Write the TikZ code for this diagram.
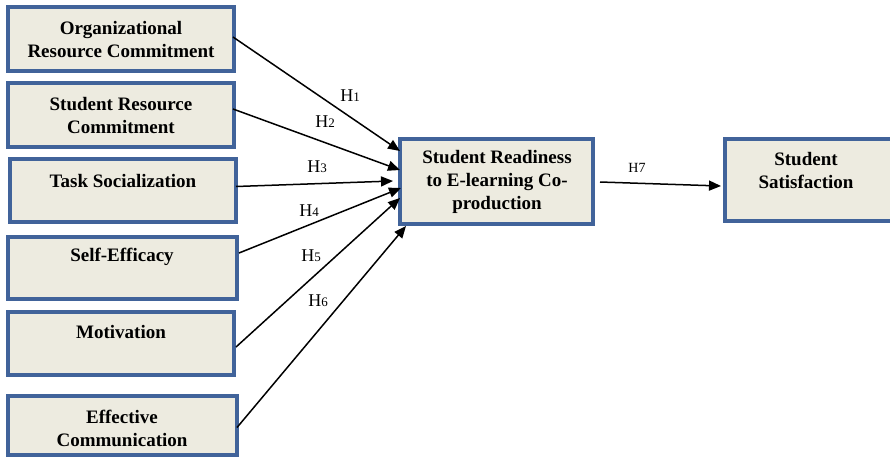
\documentclass[tikz,border=0pt]{standalone}
\usepackage{fontspec}
\setmainfont{Liberation Serif}
\usetikzlibrary{arrows.meta,calc}
\definecolor{bordblue}{HTML}{41639A}
\definecolor{boxfill}{HTML}{EDEBE0}
\tikzset{
  cbox/.style={draw=bordblue, line width=4pt, fill=boxfill, inner sep=0pt},
  btxt/.style={font=\fontsize{19}{23}\selectfont\bfseries, align=center, inner sep=0pt},
  hlab/.style={font=\fontsize{18}{18}\selectfont, inner sep=0pt},
  conn/.style={line width=1.5pt, -{Triangle[length=12pt,width=10pt]}}
}
\newcommand{\hyp}[1]{H{\fontsize{13}{13}\selectfont #1}}
\begin{document}
\begin{tikzpicture}[x=1pt,y=-1pt]
\useasboundingbox (0,0) rectangle (890,458);
% boxes
\node[cbox, minimum width=226pt, minimum height=64pt] (b1) at (121,39) {};
\node[cbox, minimum width=226pt, minimum height=64pt] (b2) at (121,115) {};
\node[cbox, minimum width=226pt, minimum height=63pt] (b3) at (123,190.5) {};
\node[cbox, minimum width=229pt, minimum height=62pt] (b4) at (122.5,268) {};
\node[cbox, minimum width=226pt, minimum height=63pt] (b5) at (121,343.5) {};
\node[cbox, minimum width=229pt, minimum height=59pt] (b6) at (122.5,425.5) {};
\node[cbox, minimum width=193pt, minimum height=85pt] (c) at (496.5,181.5) {};
\node[cbox, minimum width=168pt, minimum height=82pt] (r) at (809,180) {};
% texts
\node[btxt] (t1) at (121,40) {Organizational\\Resource Commitment};
\node[btxt] (t2) at (121,115) {Student Resource\\Commitment};
\node[btxt] (t3) at (123,181) {Task Socialization};
\node[btxt] (t4) at (122,257) {Self-Efficacy};
\node[btxt] (t5) at (121,332) {Motivation};
\node[btxt] (t6) at (122,428) {Effective\\Communication};
\node[btxt] (tc) at (497,182) {Student Readiness\\to E-learning Co-\\production};
\node[btxt] (tr) at (806,170.5) {Student\\Satisfaction};
% arrow end points
\coordinate (e1) at ($(c.north west)+(2,14)$);
\coordinate (e2) at ($(c.north west)+(2,33)$);
\coordinate (e3) at ($(c.north west)+(-5,44)$);
\coordinate (e4) at ($(c.north west)+(3,51)$);
\coordinate (e5) at ($(c.north west)+(2,61)$);
\coordinate (e6) at ($(c.south west)+(8,0)$);
% connectors
\draw[conn] ($(b1.east)+(-3,-2)$) -- (e1);
\draw[conn] ($(b2.east)+(-3,-6)$) -- (e2);
\draw[conn] ($(b3.east)+(-2,-4)$) -- (e3);
\draw[conn] ($(b4.east)+(0,-15)$) -- (e4);
\draw[conn] ($(b5.east)+(0,3.5)$) -- (e5);
\draw[conn] ($(b6.east)+(-2,2)$) -- (e6);
\draw[conn] ($(c.east)+(5,0.5)$) -- ($(r.west)+(-2,6)$);
% labels
\node[hlab] (h1) at (350,96) {\hyp{1}};
\node[hlab] (h2) at (325,122) {\hyp{2}};
\node[hlab] (h3) at (317,167) {\hyp{3}};
\node[hlab] (h4) at (309,211) {\hyp{4}};
\node[hlab] (h5) at (311,256) {\hyp{5}};
\node[hlab] (h6) at (318,301) {\hyp{6}};
\node[font=\fontsize{14}{14}\selectfont, inner sep=0pt] (h7) at (637,168) {H7};
\end{tikzpicture}
\end{document}
